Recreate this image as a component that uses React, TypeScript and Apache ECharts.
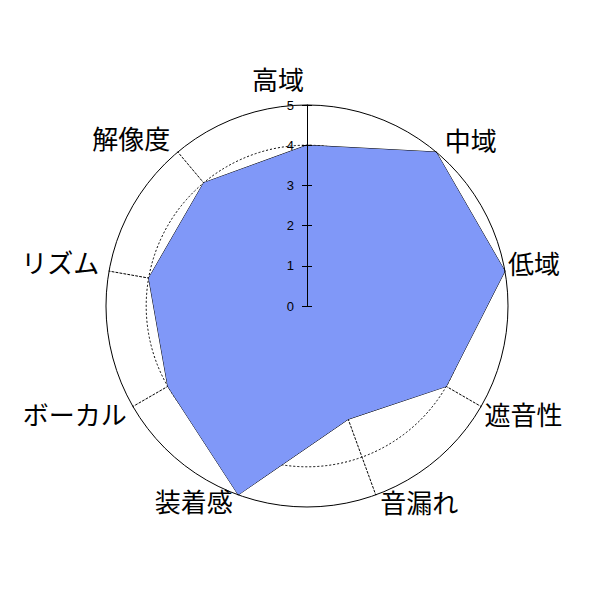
import React, { useEffect, useRef } from 'react';
import * as echarts from 'echarts';

// axes in clockwise order, starting at the top
const categories = ['高域', '中域', '低域', '遮音性', '音漏れ', '装着感', 'ボーカル', 'リズム', '解像度'];
const scores = [4, 5, 5, 4, 3, 5, 4, 4, 4];
const scaleMax = 5;

// label nudges (nameGap, rich padding) per axis, same order as categories
const nameGaps = [14, 10, 3, 4, 10, 10, 7, 10, 10];
const namePads = [
  [0, 58, 0, 0],
  [0, 0, 10, 2],
  [0, 0, 17, 0],
  [9, 0, 0, 0],
  [0, 0, 5, 1],
  [0, 2, 8, 0],
  [6, 0, 0, 0],
  [0, 0, 15, 0],
  [0, 1, 13, 0],
];

const CENTER = [307, 306];
const RADIUS = 201;
const FONT = '"Noto Sans CJK JP", sans-serif';

// echarts radar goes counter-clockwise, so flip everything after the first axis
const order = [0, ...categories.slice(1).map((_, i) => categories.length - 1 - i)];

const App: React.FC = () => {
  const chartRef = useRef<HTMLDivElement>(null);

  useEffect(() => {
    if (!chartRef.current) return;
    const chart = echarts.init(chartRef.current, undefined, { renderer: 'svg' });

    const hidden = { show: false };
    const rich: Record<string, any> = {};
    categories.forEach((_, i) => {
      rich['n' + i] = { fontFamily: FONT, fontSize: 26, color: '#000', padding: namePads[i] };
    });

    // bottom layer: dotted spokes, dotted ring at 4, axis names
    const baseIndicators = order.map((i) => ({
      name: categories[i],
      min: 0,
      max: scaleMax,
      nameGap: nameGaps[i],
      ...(i === 0 ? { axisLine: { show: false } } : {}),
    }));
    // top layer: solid top axis with ticks and labels, solid outer ring
    const topIndicators = order.map((i) => ({
      name: categories[i],
      min: 0,
      max: scaleMax,
      ...(i === 0
        ? {
            axisLine: { show: true, lineStyle: { color: '#000', width: 1, type: 'solid' } },
            axisTick: { show: true, length: 5, lineStyle: { color: '#000', width: 1 } },
            axisLabel: {
              show: true,
              margin: 13,
              color: '#000',
              fontSize: 13,
              fontFamily: '"Liberation Sans", Arial, sans-serif',
            },
          }
        : {}),
    }));
    // ticks poking out on the other side of the top axis
    const tickIndicators = order.map((i) => ({
      name: categories[i],
      min: 0,
      max: scaleMax,
      ...(i === 0
        ? { axisTick: { show: true, length: -5, lineStyle: { color: '#000', width: 1 } } }
        : {}),
    }));

    const option: any = {
      animation: false,
      backgroundColor: '#fff',
      radar: [
        {
          z: 0,
          center: CENTER,
          radius: RADIUS,
          startAngle: 90,
          shape: 'circle',
          splitNumber: 5,
          indicator: baseIndicators,
          axisName: {
            color: '#000',
            fontFamily: FONT,
            fontSize: 26,
            formatter: (name: string) => `{n${categories.indexOf(name)}|${name}}`,
            rich,
          },
          axisLine: { show: true, lineStyle: { color: '#000', width: 1, type: [2, 2] } },
          axisTick: hidden,
          axisLabel: hidden,
          splitLine: {
            lineStyle: {
              color: ['transparent', 'transparent', 'transparent', 'transparent', '#000', 'transparent'],
              width: 1,
              type: [2, 2],
            },
          },
          splitArea: hidden,
        },
        {
          z: 5,
          center: CENTER,
          radius: RADIUS,
          startAngle: 90,
          shape: 'circle',
          splitNumber: 5,
          indicator: topIndicators,
          axisName: hidden,
          axisLine: hidden,
          axisTick: hidden,
          axisLabel: hidden,
          splitLine: {
            lineStyle: {
              color: ['transparent', 'transparent', 'transparent', 'transparent', 'transparent', '#000'],
              width: 1,
            },
          },
          splitArea: hidden,
        },
        {
          z: 5,
          center: CENTER,
          radius: RADIUS,
          startAngle: 90,
          shape: 'circle',
          splitNumber: 5,
          indicator: tickIndicators,
          axisName: hidden,
          axisLine: hidden,
          axisTick: hidden,
          axisLabel: hidden,
          splitLine: hidden,
          splitArea: hidden,
        },
      ],
      series: [
        {
          type: 'radar',
          radarIndex: 0,
          z: 2,
          symbol: 'none',
          lineStyle: { color: '#000', width: 1 },
          areaStyle: { color: '#8098F8', opacity: 1 },
          data: [{ value: order.map((i) => scores[i]), name: 'score' }],
        },
      ],
    };

    chart.setOption(option);
    return () => chart.dispose();
  }, []);

  return (
    <div
      ref={chartRef}
      style={{ position: 'absolute', left: 0, top: 0, width: 600, height: 600, background: '#fff' }}
    />
  );
};

export default App;
